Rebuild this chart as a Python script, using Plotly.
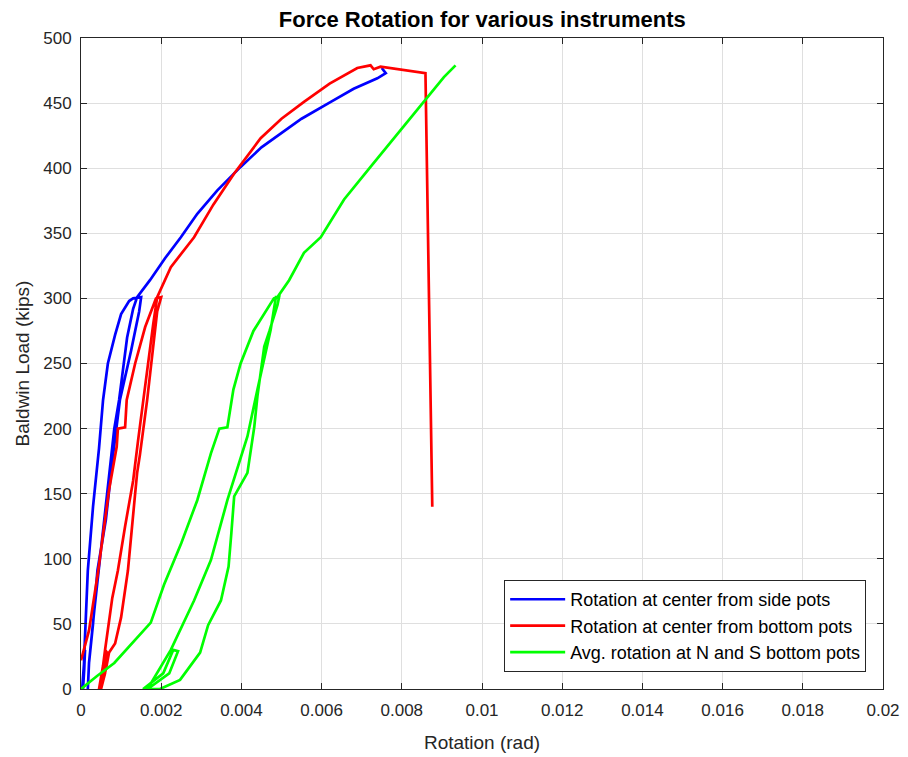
import plotly.graph_objects as go

# Rotation at center from side pots (blue)
blue_x = [0.00003, 0.00006, 0.0001, 0.00008, 0.00005,
          0.0001, 0.00017, 0.0003, 0.00045, 0.00055, 0.00067, 0.00085, 0.001, 0.0012, 0.0013, 0.0015,
          0.00145, 0.00125, 0.00097, 0.0008, 0.00062, 0.00041, 0.0003, 0.0002, 0.00017,
          0.0002, 0.00033, 0.00047, 0.00065, 0.00083, 0.00095, 0.00115, 0.0013, 0.0014,
          0.00172, 0.0021, 0.00249, 0.0029, 0.0034, 0.00398, 0.0045, 0.0049, 0.0055, 0.00623,
          0.0068, 0.00739, 0.0076, 0.0075]
blue_y = [0, 15, 30, 15, 0,
          40, 91, 140, 185, 222, 250, 272, 288, 298, 300, 301,
          290, 260, 222, 180, 130, 91, 50, 20, 0,
          20, 60, 100, 150, 200, 222, 270, 292, 301,
          314, 331, 347, 365, 383, 401, 416, 425, 438, 451,
          461, 469, 473, 477]

# Rotation at center from bottom pots (red)
red_x = [0.0, 0.0002, 0.00043, 0.0007, 0.00089, 0.00092, 0.0011, 0.00114, 0.00135, 0.0016, 0.00187, 0.002,
         0.0019, 0.00165, 0.00147, 0.0014, 0.00135, 0.00125, 0.00117, 0.001, 0.00085, 0.0007, 0.00062, 0.0005,
         0.00045, 0.00055, 0.0006, 0.00065, 0.0006, 0.0005,
         0.0006, 0.00078, 0.00092, 0.0011, 0.0013, 0.00142, 0.00155, 0.0018, 0.0019,
         0.00224, 0.00282, 0.0033, 0.00382, 0.00448, 0.005, 0.00556, 0.0062, 0.00689, 0.00722,
         0.0073, 0.00747, 0.00859, 0.00876]
red_y = [22, 45, 91, 153, 186, 200, 201, 222, 250, 278, 300, 301,
         290, 222, 180, 166, 150, 120, 91, 55, 35, 28, 15, 0,
         0, 18, 30, 28, 12, 0,
         30, 70, 91, 125, 160, 190, 222, 280, 301,
         324, 347, 372, 396, 423, 438, 451, 465, 477, 479,
         476, 478, 473, 140]

# Avg. rotation at N and S bottom pots (green)
green_x = [0.0, 0.0004, 0.00083, 0.00125, 0.00174, 0.00207, 0.0025, 0.0029, 0.00324, 0.00345, 0.00365,
           0.0038, 0.00398, 0.0043, 0.00481, 0.00494,
           0.0049, 0.0047, 0.00457, 0.0044, 0.00432, 0.00415, 0.00382, 0.00375, 0.00368, 0.00349,
           0.00317, 0.00297, 0.00272, 0.00247, 0.00197,
           0.00155, 0.00205, 0.0023, 0.00242, 0.0022, 0.00166,
           0.00224, 0.00282, 0.00324, 0.00365, 0.00415, 0.0044, 0.00473, 0.00486,
           0.0049, 0.00519, 0.00556, 0.00598, 0.00656, 0.00722, 0.00805, 0.00855, 0.00905, 0.00934]
green_y = [0, 10, 20, 34, 51, 80, 112, 145, 181, 200, 201,
           230, 250, 275, 300, 301,
           295, 275, 263, 225, 201, 166, 148, 120, 94, 68,
           49, 28, 17, 7, 0,
           0, 12, 30, 29, 12, 0,
           30, 68, 99, 145, 194, 230, 276, 301,
           301, 314, 335, 347, 376, 401, 432, 451, 470, 479]

x_ticks = [0, 0.002, 0.004, 0.006, 0.008, 0.01, 0.012, 0.014, 0.016, 0.018, 0.02]
x_tick_labels = ["0", "0.002", "0.004", "0.006", "0.008", "0.01", "0.012", "0.014", "0.016", "0.018", "0.02"]
y_ticks = [0, 50, 100, 150, 200, 250, 300, 350, 400, 450, 500]

FONT = "Liberation Sans, Arial, sans-serif"

fig = go.Figure()
fig.add_trace(go.Scatter(x=blue_x, y=blue_y, mode="lines", name="Rotation at center from side pots",
                         line=dict(color="#0000FF", width=2.7)))
fig.add_trace(go.Scatter(x=red_x, y=red_y, mode="lines", name="Rotation at center from bottom pots",
                         line=dict(color="#FF0000", width=2.7)))
fig.add_trace(go.Scatter(x=green_x, y=green_y, mode="lines", name="Avg. rotation at N and S bottom pots",
                         line=dict(color="#00FF00", width=2.7)))

axis_common = dict(showline=True, linecolor="#262626", linewidth=1, mirror="allticks",
                   ticks="inside", ticklen=6, tickcolor="#262626",
                   showgrid=True, gridcolor="#DFDFDF", gridwidth=1, zeroline=False,
                   tickfont=dict(family=FONT, size=17, color="#262626"))

fig.update_layout(
    width=900, height=749,
    paper_bgcolor="white", plot_bgcolor="white",
    margin=dict(l=73, r=25, t=30, b=68),
    title=dict(text="<b>Force Rotation for various instruments</b>", x=0.527, xanchor="center",
               y=0.985, yanchor="middle", font=dict(family=FONT, size=22, color="black")),
    xaxis=dict(range=[0, 0.02], tickvals=x_ticks, ticktext=x_tick_labels, ticklabelstandoff=6,
               automargin=False,
               title=dict(text="Rotation (rad)", font=dict(family=FONT, size=19, color="#262626"), standoff=16),
               **axis_common),
    yaxis=dict(range=[0, 500], tickvals=y_ticks, ticklabelstandoff=5,
               title=dict(text="Baldwin Load (kips)", font=dict(family=FONT, size=19, color="#262626"), standoff=8),
               **axis_common),
    legend=dict(x=0.979, y=0.026, xanchor="right", yanchor="bottom",
                bgcolor="white", bordercolor="#262626", borderwidth=1, itemwidth=55,
                font=dict(family=FONT, size=18, color="black"), tracegroupgap=0),
    showlegend=True,
)

fig.write_html("out.html")
